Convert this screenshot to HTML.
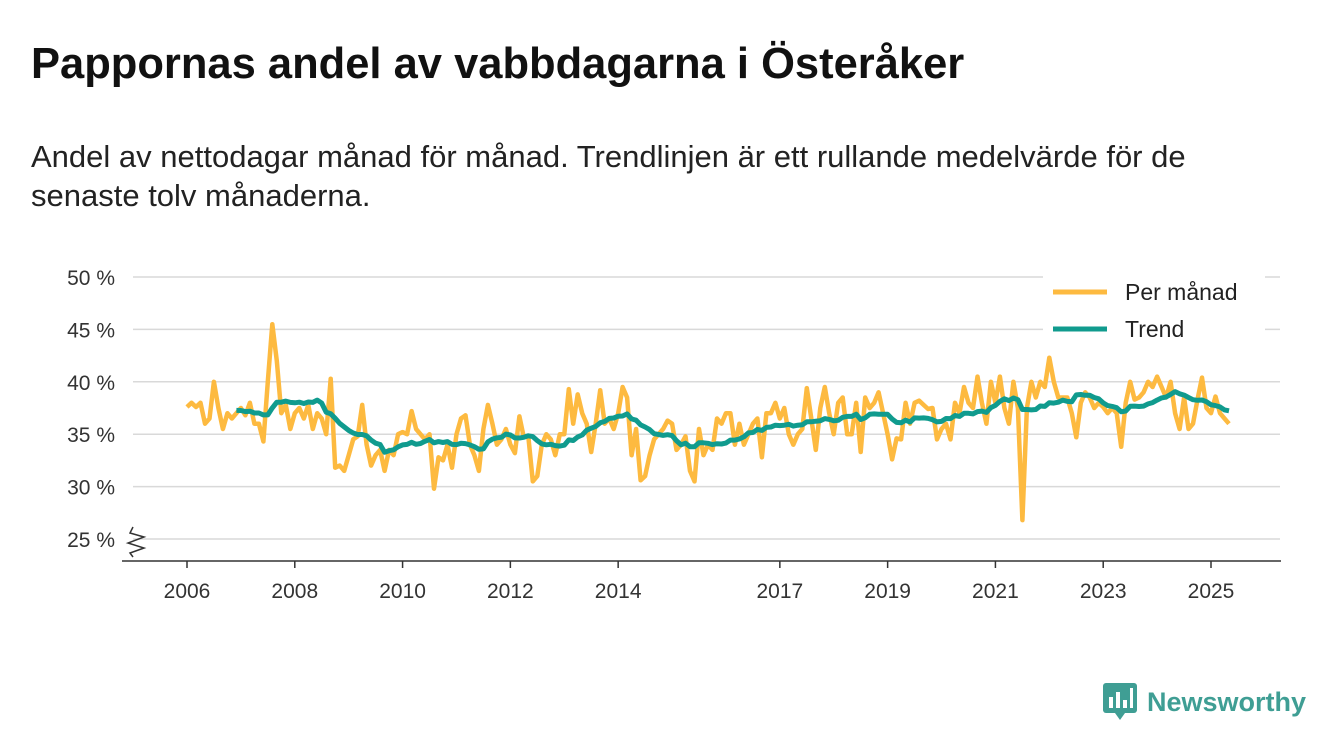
<!DOCTYPE html>
<html><head><meta charset="utf-8"><style>
body{margin:0;width:1340px;height:753px;background:#fff;font-family:"Liberation Sans",sans-serif;overflow:hidden;position:relative}
h1{position:absolute;left:31px;top:40px;margin:0;font-size:43.5px;font-weight:bold;color:#111}
.sub{position:absolute;left:31px;top:137px;font-size:31px;line-height:39px;color:#222;width:1270px}
</style></head><body>
<h1>Pappornas andel av vabbdagarna i Österåker</h1>
<div class="sub">Andel av nettodagar månad för månad. Trendlinjen är ett rullande medelvärde för de senaste tolv månaderna.</div>
<svg id="chart" width="1340" height="753" style="position:absolute;left:0;top:0" font-family="Liberation Sans, sans-serif"></svg>
<div style="position:absolute;left:1103px;top:683px;display:flex;align-items:center">
<svg width="34" height="38"><rect x="0" y="0" width="34" height="30" rx="3" fill="#3f9e94"/><polygon points="12,30 22,30 17,37" fill="#3f9e94"/><rect x="6" y="14" width="4" height="11" fill="#fff"/><rect x="13" y="9" width="4" height="16" fill="#fff"/><rect x="20" y="17" width="4" height="8" fill="#fff"/><rect x="27" y="5" width="3" height="20" fill="#fff"/></svg>
<span style="font-size:27px;font-weight:bold;color:#3f9e94;margin-left:10px">Newsworthy</span></div>
<script>
const yearTicks=[2006,2008,2010,2012,2014,2017,2019,2021,2023,2025];
const yTicks=[25,30,35,40,45,50];
const startYear=2006;
const monthly=[
37.6,38,37.6,38,36,36.5,40,37.5,35.5,37,36.5,37,
37.5,36.8,38,36,36,34.3,40,45.5,42,37,37.8,35.5,
37,37.5,36.5,37.8,35.5,37,36.5,35,40.3,31.8,32,31.5,
33,34.5,34.8,37.8,34,32,33,33.5,31.5,33.5,33,35,
35.2,35,37.2,35.5,35,34.5,35,29.8,32.8,32.5,34,31.8,
35,36.5,36.8,34,33,31.5,35.5,37.8,36,34,34.5,35.5,
34,33.2,36.7,34.7,34.8,30.5,31,34,35,34.5,33,35,
35,39.3,36,38.8,37,36,33.3,36,39.2,36,36.5,35.5,
37,39.5,38.5,33,35.5,30.6,31,33,34.5,35,35.5,36.3,
36,33.5,34,34.8,31.5,30.5,35.5,33,34,33.5,36.5,36,
37,37,34,36,34,35,36,36.5,32.8,37,37,38,
36.5,37.5,35,34,35,35.5,39.4,36.5,33.5,37.5,39.5,37,
35,38,38.5,35,35,38,33.3,38.5,37.5,38,39,37,
35,32.6,34.6,34.5,38,36,38,38.2,37.8,37.4,37.5,34.5,
35.5,36,34.5,38,37,39.5,38,37.5,40.5,38,36,40,
38,40.5,37.5,36,40,37.5,26.8,37.5,40,38.5,40,39.5,
42.3,40,38.5,38.5,38.5,37,34.7,38,39,38.5,37.5,38,
37.6,37,37.5,37,33.8,38,40,38.3,38.5,39,40,39.5,
40.5,39.5,38.5,40,37,35.5,38.5,35.5,36,38.3,40.4,37.5,
37,38.6,37,36.5,36
];
const NS="http://www.w3.org/2000/svg";
const svg=document.getElementById('chart');
const x=t=>187+(t-2006)*(1211-187)/19;
const y=v=>277+(50-v)*(539-277)/25;
function mk(tag,attrs){const e=document.createElementNS(NS,tag);for(const k in attrs)e.setAttribute(k,attrs[k]);svg.appendChild(e);return e;}
yTicks.forEach(v=>{
 const l=mk('line',{x1:133,x2:1280,y1:y(v),y2:y(v),stroke:'#d9d9d9','stroke-width':1.5});
 
 
 const t=mk('text',{x:115,y:y(v)+8,'text-anchor':'end','font-size':21,fill:'#333'});t.textContent=v+' %';
 
 
});
const ax=mk('line',{x1:122,x2:1281,y1:561,y2:561,stroke:'#333','stroke-width':1.5});


const br=mk('path',{d:'M133,527 L130,533 L144,537 L128,543 L144,548 L130,553 L133,557',fill:'none',stroke:'#333','stroke-width':1.5});


yearTicks.forEach(yr=>{
 const tk=mk('line',{x1:x(yr),x2:x(yr),y1:561,y2:568,stroke:'#333','stroke-width':1.5});
 
 
 const t=mk('text',{x:x(yr),y:598,'text-anchor':'middle','font-size':21,fill:'#333'});t.textContent=yr;
 
 
});
const tOf=i=>startYear+i/12;
const mp=monthly.map((v,i)=>x(tOf(i)).toFixed(1)+','+y(v).toFixed(1)).join(' ');
const ml=mk('polyline',{points:mp,fill:'none',stroke:'#fdba40','stroke-width':4.5,'stroke-linejoin':'round'});


const trend=[];
for(let i=11;i<monthly.length;i++){let s=0;for(let j=i-11;j<=i;j++)s+=monthly[j];trend.push(x(tOf(i)).toFixed(1)+','+y(s/12).toFixed(1));}
const tl=mk('polyline',{points:trend.join(' '),fill:'none',stroke:'#109b8e','stroke-width':5,'stroke-linejoin':'round'});


const lg=mk('rect',{x:1043,y:275,width:222,height:70,fill:'#fff'});


[['Per månad','#fdba40',292],['Trend','#109b8e',329]].forEach(([n,c,yy])=>{
 const l=mk('line',{x1:1053,x2:1107,y1:yy,y2:yy,stroke:c,'stroke-width':5});
 
 
 const t=mk('text',{x:1125,y:yy+8,'font-size':23,fill:'#222'});t.textContent=n;
 
 
});
</script>
</body></html>
